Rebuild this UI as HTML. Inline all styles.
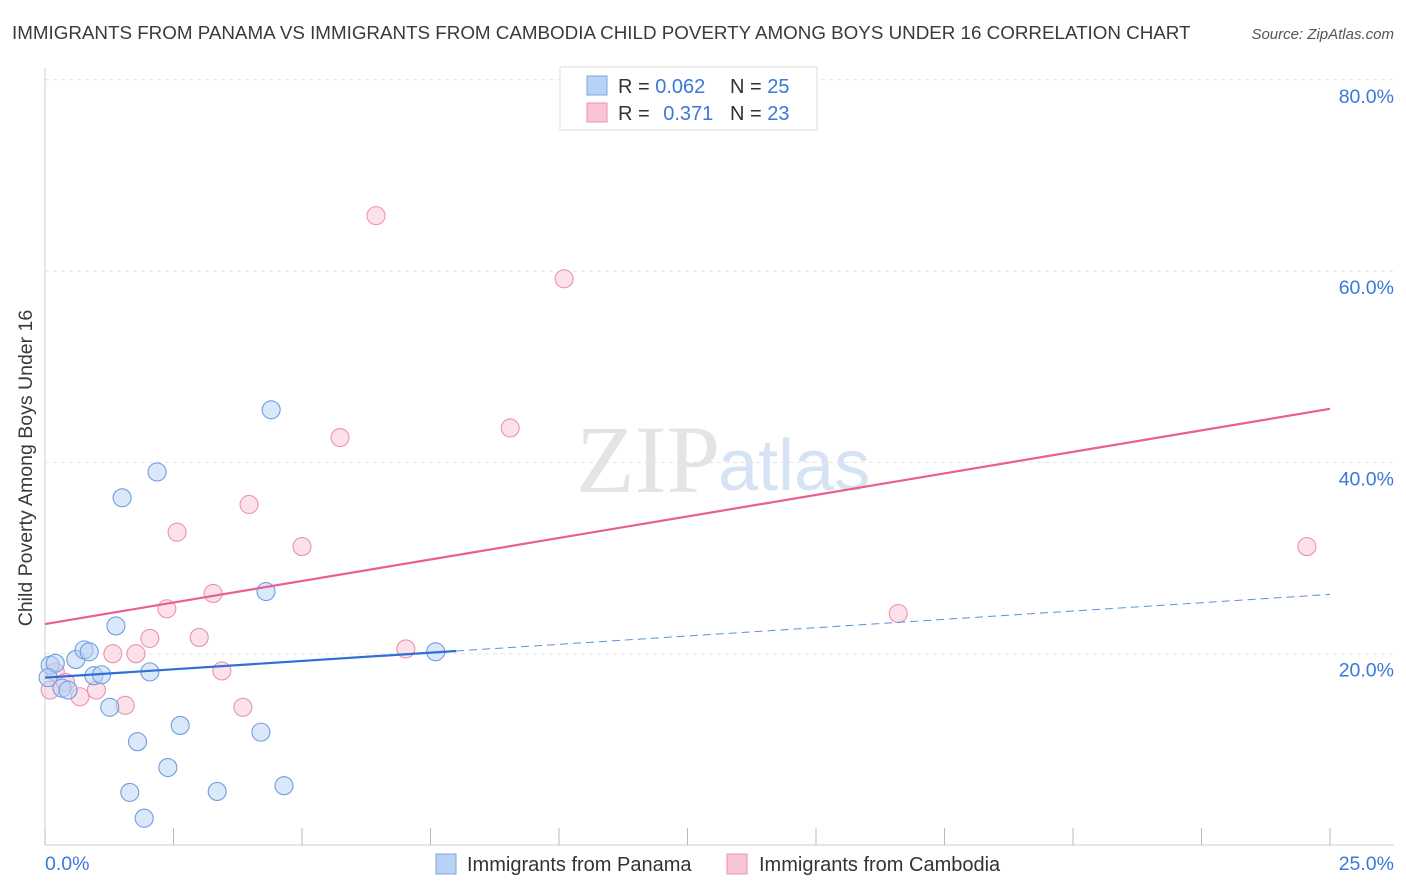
<!DOCTYPE html>
<html><head><meta charset="utf-8"><style>
body{margin:0;background:#fff;font-family:"Liberation Sans",sans-serif;}
#wrap{position:relative;width:1406px;height:892px;overflow:hidden}
</style></head><body>
<div id="wrap">
<svg id="svg" width="1406" height="892" xmlns="http://www.w3.org/2000/svg">
<text x="12" y="39" font-size="18.8" fill="#3a3a3a">IMMIGRANTS FROM PANAMA VS IMMIGRANTS FROM CAMBODIA CHILD POVERTY AMONG BOYS UNDER 16 CORRELATION CHART</text>
<text x="1394" y="39" font-size="15" fill="#555" font-style="italic" text-anchor="end">Source: ZipAtlas.com</text>
<text x="720" y="492" font-size="96" fill="#e4e4e4" font-family="Liberation Serif,serif" text-anchor="end">ZIP</text>
<text x="718" y="490" font-size="72" fill="#d6e3f5">atlas</text>
<text x="20" y="456" font-size="19.5" fill="#3a3a3a" text-anchor="middle" transform="rotate(-90 32 456)">Child Poverty Among Boys Under 16</text>
<g id="grid"></g><g id="marks"></g>
<g>
<rect x="560" y="67" width="257" height="63" fill="#fff" stroke="#ddd"/>
<rect x="587" y="76" width="20" height="19" fill="#b8d2f5" stroke="#7aa5e0"/>
<rect x="587" y="103" width="20" height="19" fill="#f9c4d3" stroke="#eb92ad"/>
<text x="618" y="93" font-size="20" fill="#333">R = <tspan fill="#3b78d8">0.062</tspan></text>
<text x="730" y="93" font-size="20" fill="#333">N = <tspan fill="#3b78d8">25</tspan></text>
<text x="618" y="120" font-size="20" fill="#333">R = <tspan fill="#3b78d8" dx="8">0.371</tspan></text>
<text x="730" y="120" font-size="20" fill="#333">N = <tspan fill="#3b78d8">23</tspan></text>
</g>
<g>
<rect x="436" y="854" width="20" height="20" fill="#b8d2f5" stroke="#7aa5e0"/>
<text x="467" y="871" font-size="20" fill="#333">Immigrants from Panama</text>
<rect x="727" y="854" width="20" height="20" fill="#f9c4d3" stroke="#eb92ad"/>
<text x="759" y="871" font-size="20" fill="#333">Immigrants from Cambodia</text>
</g>
<text x="45" y="870" font-size="19.5" fill="#3b78d8">0.0%</text>
<text x="1394" y="870" font-size="19.5" fill="#3b78d8" text-anchor="end">25.0%</text>
</svg></div>
<script>
const yTicks=[20,40,60,80];
const panamaX=[0.1,0.2,0.06,0.33,0.45,0.6,0.76,0.86,0.95,1.1,1.26,1.38,1.5,1.65,1.8,1.93,2.04,2.18,2.39,2.63,3.35,4.2,4.3,4.4,4.65,7.6];
const panamaY=[18.8,19.0,17.5,16.4,16.2,19.4,20.4,20.2,17.7,17.8,14.4,22.9,36.3,5.5,10.8,2.8,18.1,39.0,8.1,12.5,5.6,11.8,26.5,45.5,6.2,20.2];
const cambX=[0.1,0.2,0.4,0.68,1.0,1.32,1.56,1.77,2.04,2.37,2.57,3.0,3.27,3.44,3.85,3.97,5.0,5.74,6.44,7.02,9.05,10.1,16.6,24.55];
const cambY=[16.2,18.1,17.0,15.5,16.2,20.0,14.6,20.0,21.6,24.7,32.7,21.7,26.3,18.2,14.4,35.6,31.2,42.6,65.8,20.5,43.6,59.2,24.2,31.2];
const trendPanama=[17.5,26.2];const trendCamb=[23.1,45.6];const panamaSolidEnd=8;
const NS='http://www.w3.org/2000/svg';
const X=v=>45+v*(1285/25), Y=v=>845-v*9.565;
function mk(t,a,p){const e=document.createElementNS(NS,t);for(const k in a)e.setAttribute(k,a[k]);p.appendChild(e);return e;}
const g=document.getElementById('grid'),m=document.getElementById('marks');
for(const t of yTicks){const l=mk('line',{x1:45,x2:1394,y1:Y(t),y2:Y(t),stroke:'#e2e2e2','stroke-dasharray':'4,4'},g);


const tx=mk('text',{x:1394,y:Y(t)+23,'font-size':19.5,fill:'#3b78d8','text-anchor':'end'},g);tx.textContent=t.toFixed(1)+'%';

}
mk('line',{x1:45,x2:45,y1:68,y2:845,stroke:'#ccc'},g);
mk('line',{x1:45,x2:1394,y1:845,y2:845,stroke:'#ccc'},g);
for(let i=0;i<=10;i++){const t=mk('line',{x1:X(i*2.5),x2:X(i*2.5),y1:828,y2:845,stroke:'#bbb'},g);

}
function pts(xs,ys,fill,stroke,name){for(let i=0;i<xs.length;i++){const c=mk('circle',{cx:X(xs[i]),cy:Y(ys[i]),r:9,fill:fill,stroke:stroke,'stroke-width':1.1,'fill-opacity':0.5},m);

}}
pts(cambX,cambY,'#f9c4d3','#eb92ad','point-cambodia');
pts(panamaX,panamaY,'#b8d2f5','#6f9ee0','point-panama');
const tp=v=>trendPanama[0]+(trendPanama[1]-trendPanama[0])*v/25;
const l1=mk('line',{x1:X(0),y1:Y(tp(0)),x2:X(panamaSolidEnd),y2:Y(tp(panamaSolidEnd)),stroke:'#2f6fd6','stroke-width':2.2},m);


const l2=mk('line',{x1:X(panamaSolidEnd),y1:Y(tp(panamaSolidEnd)),x2:X(25),y2:Y(tp(25)),stroke:'#5b8fdc','stroke-width':1,'stroke-dasharray':'8,5'},m);


const l3=mk('line',{x1:X(0),y1:Y(trendCamb[0]),x2:X(25),y2:Y(trendCamb[1]),stroke:'#e8608c','stroke-width':2.2},m);


</script></body></html>
